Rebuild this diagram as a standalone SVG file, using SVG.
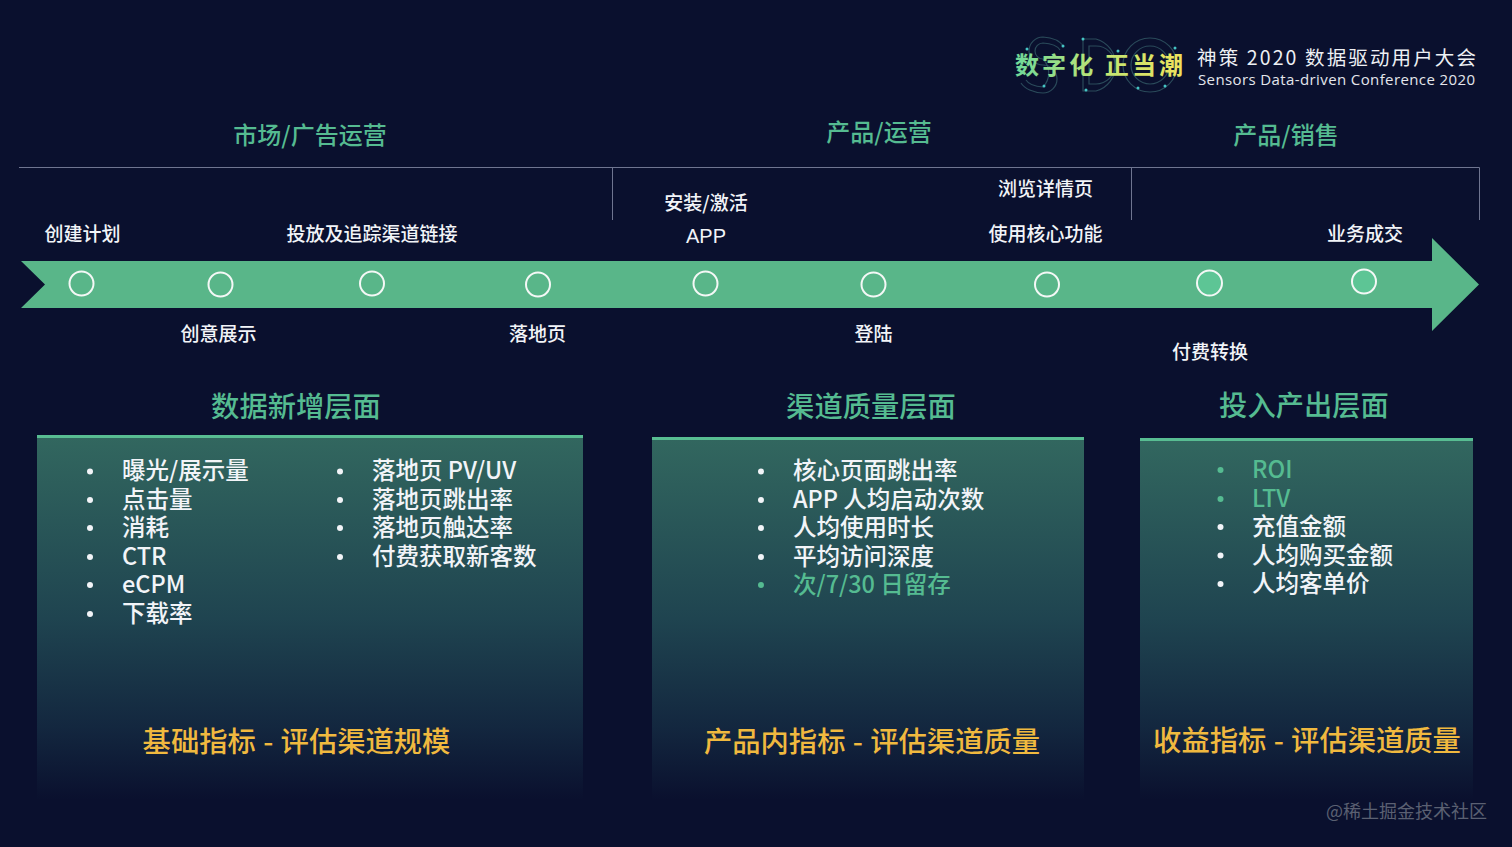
<svg xmlns="http://www.w3.org/2000/svg" width="1512" height="847" viewBox="0 0 1512 847">
<defs>
<linearGradient id="panel" x1="0" y1="0" x2="0" y2="1"><stop offset="0" stop-color="#32675f"/><stop offset="0.5" stop-color="#1f4450"/><stop offset="0.8" stop-color="#13273f"/><stop offset="1" stop-color="#0a102e"/></linearGradient>
<linearGradient id="slogan" x1="0" y1="0" x2="1" y2="0"><stop offset="0" stop-color="#6fd89a"/><stop offset="0.5" stop-color="#bfe675"/><stop offset="1" stop-color="#efe25c"/></linearGradient>
</defs>
<style>
text{font-family:"Noto Sans CJK SC","Noto Sans",sans-serif}
.lbl{font-size:19px;fill:#f2f4f8;text-anchor:middle;font-weight:500}
.cat{font-size:24px;fill:#55bb91;text-anchor:middle;font-weight:500}
.hd{font-size:28.300px;fill:#55bb91;text-anchor:middle;font-weight:500}
.it{font-size:23.500px;fill:#f2f4f8;font-weight:500}
.gr{fill:#55bb91}
.ft{font-size:28.300px;fill:#f0b93f;text-anchor:middle;font-weight:500;word-spacing:1px}
.dot{fill:#f2f4f8}
.c{fill:none;stroke:#f4f8f6;stroke-width:2}
.ln{fill:none;stroke:#6f7590;stroke-width:1}
.lg{fill:none;stroke:#2a4a5a;stroke-width:1.200}
.ld{fill:#45c4c4}
</style>
<rect width="1512" height="847" fill="#0a102e"/>
<g id="logo">
<path class="lg" d="M1064 47A25 16 0 0 0 1043 37A14 14 0 0 0 1043 65A14 14 0 0 1 1043 93A25 16 0 0 1 1021 83"/>
<path class="lg" d="M1060 50A20 10 0 0 0 1043 43A8 8 0 0 0 1043 59A20 20 0 0 1 1043 87A20 10 0 0 1 1026 80"/>
<path class="lg" d="M1083 39H1096A27 27 0 0 1 1096 91H1083ZM1089 46H1096A19 19 0 0 1 1096 84H1089Z"/>
<circle class="lg" cx="1150" cy="65" r="27"/><circle class="lg" cx="1150" cy="65" r="19"/>
<circle class="ld" cx="1027" cy="49" r="1.500"/><circle class="ld" cx="1063" cy="46" r="1.500"/><circle class="ld" cx="1044" cy="86" r="1.500"/><circle class="ld" cx="1083" cy="39" r="1.500"/><circle class="ld" cx="1086" cy="90" r="1.500"/><circle class="ld" cx="1118" cy="51" r="1.500"/><circle class="ld" cx="1175" cy="48" r="1.500"/><circle class="ld" cx="1138" cy="88" r="1.500"/><circle class="ld" cx="1165" cy="86" r="1.500"/>
<text x="1015" y="74" font-size="24" font-weight="700" fill="url(#slogan)" textLength="168">数字化 正当潮</text>
<text x="1197" y="65" font-size="19.500" fill="#eef0f4" textLength="279">神策 2020 数据驱动用户大会</text>
<text x="1198" y="85" font-size="15" fill="#e4e6ec" style="font-family:'Open Sans','Noto Sans',sans-serif" textLength="277">Sensors Data-driven Conference 2020</text>
</g>
<g id="connectors">
<path class="ln" d="M19 167.500H1479.500V220M612.500 167.500V220M1131.500 167.500V220"/>
</g>
<g id="cat-market"><text class="cat" x="310" y="144">市场/广告运营</text></g>
<g id="cat-product"><text class="cat" x="879" y="141">产品/运营</text></g>
<g id="cat-sales"><text class="cat" x="1286" y="144">产品/销售</text></g>
<g id="arrow"><path d="M21 261H1432V238L1479 284.500L1432 331V308H21L45 284.500Z" fill="#59b689"/></g>
<g id="n1"><circle class="c" cx="81.500" cy="283.500" r="12"/><text class="lbl" x="82.500" y="241">创建计划</text></g>
<g id="n2"><circle class="c" cx="220.500" cy="284.500" r="12"/><text class="lbl" x="218.500" y="341">创意展示</text></g>
<g id="n3"><circle class="c" cx="372" cy="283.500" r="12"/><text class="lbl" x="372" y="241">投放及追踪渠道链接</text></g>
<g id="n4"><circle class="c" cx="538" cy="284.500" r="12"/><text class="lbl" x="537.500" y="341">落地页</text></g>
<g id="n5"><circle class="c" cx="705.500" cy="283.500" r="12"/><text class="lbl" x="706" y="210">安装/激活</text><text class="lbl" x="706" y="243" style="font-family:'Liberation Sans',sans-serif;font-size:20px;font-weight:400">APP</text></g>
<g id="n6"><circle class="c" cx="873.500" cy="284.500" r="12"/><text class="lbl" x="873.500" y="341">登陆</text></g>
<g id="n7"><circle class="c" cx="1047" cy="284.500" r="12"/><text class="lbl" x="1045.500" y="196">浏览详情页</text><text class="lbl" x="1045.500" y="241">使用核心功能</text></g>
<g id="n8"><circle cx="1209.500" cy="283" r="12.500" fill="#5dc595" stroke="#f4f8f6" stroke-width="2"/><text class="lbl" x="1210" y="359">付费转换</text></g>
<g id="n9"><circle cx="1364" cy="281.500" r="12" fill="#5dc595" stroke="#f4f8f6" stroke-width="2"/><text class="lbl" x="1365" y="241">业务成交</text></g>
<g id="panel-data">
<text class="hd" x="296" y="417">数据新增层面</text>
<rect x="37" y="436" width="546" height="364" fill="url(#panel)"/><rect x="37" y="435" width="546" height="3" fill="#58bd92"/>
<g class="dot"><circle cx="90" cy="471.500" r="3"/><circle cx="90" cy="500" r="3"/><circle cx="90" cy="528" r="3"/><circle cx="90" cy="557" r="3"/><circle cx="90" cy="585" r="3"/><circle cx="90" cy="614" r="3"/><circle cx="340" cy="471.500" r="3"/><circle cx="340" cy="500" r="3"/><circle cx="340" cy="528" r="3"/><circle cx="340" cy="557" r="3"/></g>
<text class="it" x="122" y="479">曝光/展示量</text><text class="it" x="122" y="508">点击量</text><text class="it" x="122" y="536">消耗</text><text class="it" x="122" y="565">CTR</text><text class="it" x="122" y="593">eCPM</text><text class="it" x="122" y="622">下载率</text>
<text class="it" x="372" y="479">落地页 PV/UV</text><text class="it" x="372" y="508">落地页跳出率</text><text class="it" x="372" y="536">落地页触达率</text><text class="it" x="372" y="565">付费获取新客数</text>
<text class="ft" x="296.500" y="752">基础指标 - 评估渠道规模</text>
</g>
<g id="panel-quality">
<text class="hd" x="871" y="417">渠道质量层面</text>
<rect x="652" y="438" width="432" height="362" fill="url(#panel)"/><rect x="652" y="437" width="432" height="3" fill="#58bd92"/>
<g class="dot"><circle cx="761" cy="471.500" r="3"/><circle cx="761" cy="500" r="3"/><circle cx="761" cy="528" r="3"/><circle cx="761" cy="557" r="3"/><circle class="gr" cx="761" cy="585" r="3"/></g>
<text class="it" x="793" y="479">核心页面跳出率</text><text class="it" x="793" y="508">APP 人均启动次数</text><text class="it" x="793" y="536">人均使用时长</text><text class="it" x="793" y="565">平均访问深度</text><text class="it gr" x="793" y="593">次/7/30 日留存</text>
<text class="ft" x="872" y="752">产品内指标 - 评估渠道质量</text>
</g>
<g id="panel-revenue">
<text class="hd" x="1304" y="416">投入产出层面</text>
<rect x="1140" y="439" width="333" height="361" fill="url(#panel)"/><rect x="1140" y="438" width="333" height="3" fill="#58bd92"/>
<g class="dot"><circle class="gr" cx="1220.500" cy="470" r="3"/><circle class="gr" cx="1220.500" cy="499" r="3"/><circle cx="1220.500" cy="527" r="3"/><circle cx="1220.500" cy="555.500" r="3"/><circle cx="1220.500" cy="584" r="3"/></g>
<text class="it gr" x="1252" y="478">ROI</text><text class="it gr" x="1252" y="507">LTV</text><text class="it" x="1252" y="535">充值金额</text><text class="it" x="1252" y="563.500">人均购买金额</text><text class="it" x="1252" y="592">人均客单价</text>
<text class="ft" x="1307" y="751">收益指标 - 评估渠道质量</text>
</g>
<text x="1487" y="818" font-size="18" fill="#5b6072" text-anchor="end">@稀土掘金技术社区</text>
</svg>
